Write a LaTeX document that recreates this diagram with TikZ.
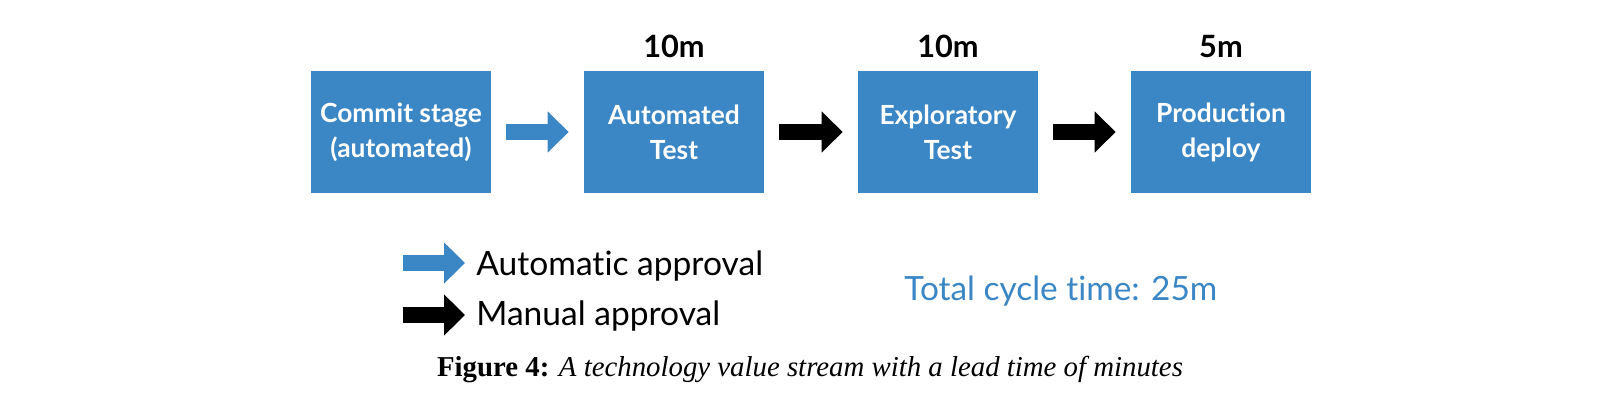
\documentclass[tikz,border=0pt]{standalone}
\usepackage{fontspec}
\setmainfont{Liberation Serif}
\newfontfamily\brand[Ligatures=NoCommon]{Lato}
\usetikzlibrary{arrows.meta, positioning}
\definecolor{stageblue}{RGB}{59,134,197}

\begin{document}
\begin{tikzpicture}[x=0.02cm, y=-0.02cm,
      stage/.style={rectangle, fill=stageblue, minimum width=3.6cm, minimum height=2.44cm,
                    inner sep=0pt, align=center, text=white, font=\brand\bfseries\fontsize{15}{20}\selectfont},
      flow/.style={line width=0.32cm, -{Triangle[length=0.42cm, width=0.8cm]},
                   shorten <=0.3cm, shorten >=0.3cm},
      auto/.style={flow, stageblue},
      manual/.style={flow, black},
      lbl/.style={font=\brand\bfseries\fontsize{17.5}{20}\selectfont, above=0.14cm},
      legend/.style={font=\brand\fontsize{19.1}{23}\selectfont, anchor=base west, inner sep=0pt}
    ]
    \useasboundingbox (0,0) rectangle (1619,418);

    % Stufen
    \node[stage] (commit)  at (401,132)  {Commit stage\\(automated)};
    \node[stage] (autotest) at (674,132) {Automated\\Test};
    \node[stage] (explore) at (948,132)  {Exploratory\\Test};
    \node[stage] (deploy)  at (1221,132) {Production\\deploy};

    % Zeiten
    \node[lbl] (tauto)    at (autotest.north) {10m};
    \node[lbl] (texplore) at (explore.north)  {10m};
    \node[lbl] (tdeploy)  at (deploy.north)   {5m};

    % Freigaben
    \draw[auto]   (commit)   -- (autotest);
    \draw[manual] (autotest) -- (explore);
    \draw[manual] (explore)  -- (deploy);

    % Legende
    \coordinate (autoA) at (403,263);
    \coordinate (autoB) at (465,263);
    \coordinate (manA)  at (403,315);
    \coordinate (manB)  at (465,315);
    \draw[auto, shorten <=0pt, shorten >=0pt]   (autoA) -- (autoB);
    \draw[manual, shorten <=0pt, shorten >=0pt] (manA) -- (manB);
    \node[legend] (autotxt) at (476,276) {Automatic approval};
    \node[legend] (mantxt)  at (476,326) {Manual approval};

    \node[font=\brand\fontsize{19}{22}\selectfont, text=stageblue, anchor=base west, inner sep=0pt]
      (total) at (904,301) {Total cycle time: 25m};

    % Bildunterschrift
    \node[font=\fontsize{16.4}{19}\selectfont, anchor=base, inner sep=0pt] (caption) at (810,377)
      {\textbf{Figure 4:} \textit{A technology value stream with a lead time of minutes}};
  \end{tikzpicture}
\end{document}
